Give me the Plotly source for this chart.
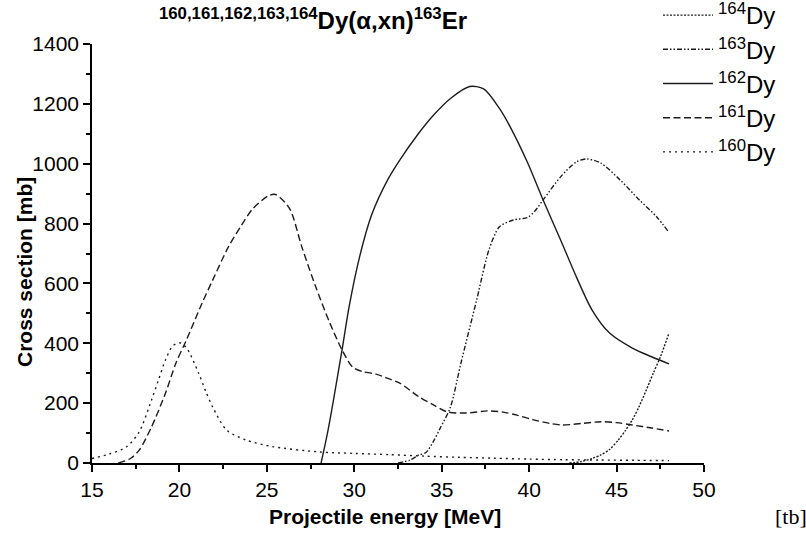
import plotly.graph_objects as go

# Excitation functions for Dy(alpha,xn)163Er, one series per target isotope
energy_160 = [15, 16, 17, 17.7, 18.4, 18.8, 19.2, 19.6, 20, 20.4, 21.1, 21.5, 21.9, 22.7,
              23.8, 25.3, 28, 30, 32, 34, 36, 38, 40, 42, 44, 46, 48]
sigma_160 = [15, 30, 55, 104, 210, 277, 344, 390, 402, 385, 300, 240, 187, 110,
             77, 55, 37, 32, 28, 23, 19, 16, 13, 11, 10, 9, 8]

energy_161 = [16.5, 17.2, 17.7, 18.4, 19.2, 19.8, 20.4, 21.3, 21.9, 22.8, 23.5, 24.2, 25.1,
              25.5, 26.3, 27, 27.8, 28.6, 29.3, 29.9, 30.5, 31.2, 31.8, 32.6, 33.7, 34.5,
              35.3, 36.4, 37.6, 38.5, 39.3, 40.2, 41.2, 41.9, 43, 44.1, 45, 45.9, 47, 48]
sigma_161 = [0, 15, 43, 120, 233, 334, 411, 535, 611, 722, 790, 850, 893,
             897, 850, 722, 588, 468, 378, 321, 305, 298, 285, 267, 221, 195,
             171, 167, 174, 170, 160, 145, 132, 127, 132, 138, 135, 127, 117, 107]

energy_162 = [28.1, 28.5, 29.3, 29.7, 30.3, 31, 31.9, 32.6, 33.6, 34.5, 35.5, 36.6, 37.4,
              38.3, 38.9, 39.9, 40.8, 41.8, 42.7, 43.6, 44.6, 45.9, 47, 48]
sigma_162 = [0, 110, 378, 521, 688, 830, 945, 1012, 1095, 1160, 1218, 1258, 1250,
             1185, 1125, 1005, 879, 745, 622, 511, 434, 384, 355, 331]

energy_163 = [32.5, 33.2, 33.7, 34.1, 34.5, 34.9, 35.5, 36.1, 37, 37.7, 38.3, 39.1, 39.9,
              40.3, 40.8, 41.8, 42.7, 43.3, 44.1, 45.2, 46.3, 47.3, 48]
sigma_163 = [0, 10, 27, 35, 70, 115, 187, 334, 545, 712, 789, 812, 820,
             840, 879, 956, 1006, 1016, 1002, 946, 879, 822, 770]

energy_164 = [42.3, 43, 43.6, 44.1, 44.6, 45.1, 45.5, 45.9, 46.3, 46.7, 47.1, 47.5, 48]
sigma_164 = [0, 5, 15, 27, 45, 77, 108, 144, 190, 244, 300, 354, 434]

series_names = ["<sup>164</sup>Dy", "<sup>163</sup>Dy", "<sup>162</sup>Dy",
                "<sup>161</sup>Dy", "<sup>160</sup>Dy"]
series_x = [energy_164, energy_163, energy_162, energy_161, energy_160]
series_y = [sigma_164, sigma_163, sigma_162, sigma_161, sigma_160]
series_dash = ["2px,1.5px", "5px,2px,1.5px,2px,1.5px,2px", "solid", "7px,3.5px", "2px,4px"]

INK = "#1c1c1c"
FONT = "Liberation Sans, Arial, sans-serif"

# plot-area pixel frame, used to place the free-standing labels
L, R, T, B = 92, 704, 44, 463
W, H = 806, 538


def px_x(p):
    return (p - L) / (R - L)


def px_y(p):
    return (B - p) / (B - T)


fig = go.Figure()
for name, xs, ys, dash in zip(series_names, series_x, series_y, series_dash):
    fig.add_trace(go.Scatter(
        x=xs, y=ys, name=name, mode="lines",
        line=dict(color=INK, width=1.4, dash=dash, shape="spline", smoothing=0.8),
    ))

axis_common = dict(
    showline=True, linecolor="black", linewidth=1.5, mirror=False,
    ticks="outside", ticklen=7, tickwidth=1.5, tickcolor="black",
    showgrid=False, zeroline=False,
    tickfont=dict(family=FONT, size=21, color="black"),
)

fig.update_layout(
    width=W, height=H,
    margin=dict(l=L, r=W - R, t=T, b=H - B, autoexpand=False),
    paper_bgcolor="white", plot_bgcolor="white",
    font=dict(family=FONT, color="black"),
    title=dict(
        text="<b><sup>160,161,162,163,164</sup>Dy(α,xn)<sup>163</sup>Er</b>",
        x=313 / W, xanchor="center", y=1 - 21 / H, yanchor="middle",
        font=dict(family=FONT, size=24, color="black"),
    ),
    xaxis=dict(
        range=[15, 50], dtick=5, tick0=15,
        minor=dict(dtick=2.5, ticks="outside", ticklen=4, tickwidth=1.5, tickcolor="black"),
        **axis_common,
    ),
    yaxis=dict(
        range=[0, 1400], dtick=200, tick0=0,
        minor=dict(dtick=100, ticks="outside", ticklen=4, tickwidth=1.5, tickcolor="black"),
        **axis_common,
    ),
    showlegend=True,
    legend=dict(
        x=px_x(658), xanchor="left",
        y=px_y(-7), yanchor="top",
        bgcolor="rgba(255,255,255,0)", borderwidth=0,
        font=dict(family=FONT, size=24, color="black"),
        itemwidth=50, tracegroupgap=0,
    ),
)

# axis titles
fig.add_annotation(
    text="<b>Projectile energy [MeV]</b>", xref="paper", yref="paper",
    x=px_x(385), y=px_y(516), xanchor="center", yanchor="middle",
    showarrow=False, font=dict(family=FONT, size=21, color="black"),
)
fig.add_annotation(
    text="<b>Cross section [mb]</b>", xref="paper", yref="paper",
    x=px_x(24), y=px_y(272), xanchor="center", yanchor="middle", textangle=-90,
    showarrow=False, font=dict(family=FONT, size=21, color="black"),
)

fig.add_annotation(
    text="[tb]", xref="paper", yref="paper",
    x=px_x(791), y=px_y(516), xanchor="center", yanchor="middle",
    showarrow=False, font=dict(family="Liberation Serif, DejaVu Serif, serif", size=22, color="black"),
)

fig.write_html("out.html")
